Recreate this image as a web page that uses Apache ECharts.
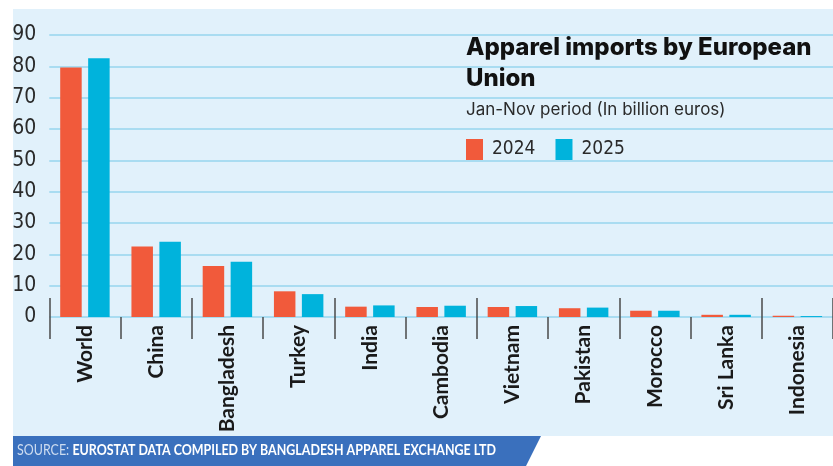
<!DOCTYPE html>
<html>
<head>
<meta charset="utf-8">
<script src="https://cdn.jsdelivr.net/npm/echarts@6/dist/echarts.min.js"></script>
<style>html,body{margin:0;padding:0;background:#fff}#c{width:833px;height:466px}</style>
</head>
<body>
<div id="c"></div>
<script>
var categories = ['World','China','Bangladesh','Turkey','India','Cambodia','Vietnam','Pakistan','Morocco','Sri Lanka','Indonesia'];
var values2024 = [79.6, 22.5, 16.3, 8.2, 3.3, 3.2, 3.2, 2.8, 2.0, 0.7, 0.4];
var values2025 = [82.6, 24.0, 17.6, 7.3, 3.7, 3.6, 3.5, 3.0, 2.0, 0.7, 0.3];
var seriesNames = ['2024', '2025'];
var yTicks = {min: 0, max: 90, interval: 10};
var titleText = 'Apparel imports by European\nUnion';
var subtitleText = 'Jan-Nov period (In billion euros)';
var sourceLabel = 'SOURCE: ';
var sourceText = 'EUROSTAT DATA COMPILED BY BANGLADESH APPAREL EXCHANGE LTD';

var chart = echarts.init(document.getElementById('c'), null, {renderer: 'canvas'});
var narrow = '"DejaVu Sans Condensed","Liberation Sans Narrow",Lato,sans-serif';
var option = {
  backgroundColor: '#ffffff',
  animation: false,
  graphic: [
    {type: 'rect', z: -10, silent: true, shape: {x: 13, y: 9, width: 830, height: 427}, style: {fill: '#e1f1fb'}},
    {type: 'polygon', z: 10, shape: {points: [[13, 436], [541, 436], [526, 466], [13, 466]]}, style: {fill: '#3a70bd'}},
    {type: 'text', z: 11, x: 17, y: 443, scaleX: 0.83, style: {
      text: '{a|' + sourceLabel + '}{b|' + sourceText + '}',
      rich: {
        a: {fill: '#cddcf0', fontFamily: 'Lato, sans-serif', fontSize: 15, fontWeight: 'normal'},
        b: {fill: '#ffffff', fontFamily: 'Lato, sans-serif', fontSize: 15, fontWeight: 'bold'}
      }
    }},
    {type: 'text', z: 11, left: 466, top: 32, style: {
      text: titleText, fill: '#111', fontFamily: 'Inter, sans-serif', fontWeight: 800, fontSize: 24, lineHeight: 31
    }},
    {type: 'text', z: 11, left: 466, top: 101, style: {
      text: subtitleText, fill: '#2a2a2a', fontFamily: 'Inter, sans-serif', fontSize: 17
    }}
  ],
  legend: {
    data: seriesNames,
    left: 461, top: 134,
    itemWidth: 17, itemHeight: 21, itemGap: 20,
    icon: 'rect',
    textStyle: {fontFamily: narrow, fontSize: 19, color: '#2a2a2a', padding: [0, 0, 0, 4]}
  },
  grid: {left: 49.3, top: 35, width: 788.4, height: 282, containLabel: false},
  xAxis: [{
    type: 'category', data: categories, position: 'bottom',
    axisLine: {show: false},
    axisTick: {show: true, length: 22, lineStyle: {color: '#4a4a4a', width: 1.5}},
    axisLabel: {rotate: 90, margin: 8, color: '#1a1a1a', fontFamily: 'Lato, sans-serif', fontWeight: 'bold', fontSize: 21},
    splitLine: {show: false}
  }, {
    type: 'category', data: categories, position: 'bottom',
    axisLine: {show: false},
    axisTick: {show: true, inside: true, length: 19, lineStyle: {color: '#4a4a4a', width: 1.5}},
    axisLabel: {show: false},
    splitLine: {show: false}
  }],
  yAxis: {
    type: 'value', min: yTicks.min, max: yTicks.max, interval: yTicks.interval,
    axisLine: {show: false}, axisTick: {show: false},
    axisLabel: {margin: 13, color: '#2a2a2a', fontFamily: narrow, fontSize: 21},
    splitLine: {lineStyle: {color: '#a9dcf1', width: 2}}
  },
  series: [{
    name: seriesNames[0], type: 'bar', data: values2024, barWidth: 21.5, barGap: '30%',
    itemStyle: {color: '#f15a3b'}
  }, {
    name: seriesNames[1], type: 'bar', data: values2025, barWidth: 21.5, barGap: '30%',
    itemStyle: {color: '#00b3dc'}
  }]
};
chart.setOption(option);
</script>
</body>
</html>
